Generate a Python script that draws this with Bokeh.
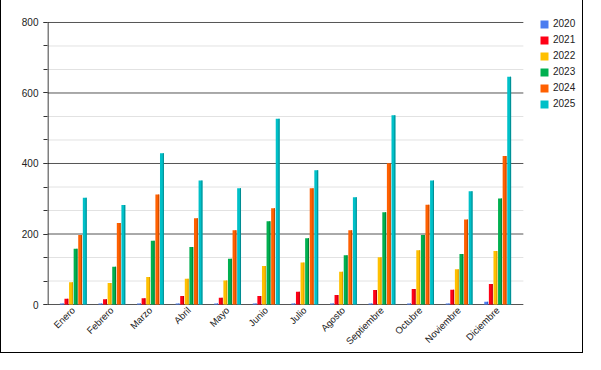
import math
import numpy as np
from bokeh.plotting import figure
from bokeh.models import (Range1d, FixedTicker, SingleIntervalTicker, Legend, LegendItem,
                          ColumnDataSource)
from bokeh.embed import file_html
from bokeh.resources import INLINE

months = ["Enero", "Febrero", "Marzo", "Abril", "Mayo", "Junio", "Julio", "Agosto",
          "Septiembre", "Octubre", "Noviembre", "Diciembre"]
years = ["2020", "2021", "2022", "2023", "2024", "2025"]
v2020 = [3, 3, 3, 3, 3, 3, 3, 3, 3, 3, 3, 8]
v2021 = [16, 15, 18, 24, 19, 24, 36, 27, 41, 44, 42, 58]
v2022 = [63, 61, 78, 73, 68, 109, 119, 93, 134, 154, 100, 152]
v2023 = [158, 107, 181, 163, 130, 236, 188, 140, 262, 197, 143, 301]
v2024 = [197, 231, 312, 245, 211, 273, 330, 211, 401, 283, 241, 421]
v2025 = [303, 282, 429, 352, 330, 527, 381, 304, 537, 352, 321, 646]
series = [v2020, v2021, v2022, v2023, v2024, v2025]
colors = ["#4a7cf0", "#ff0016", "#ffc000", "#00b050", "#ff6000", "#00c0c8"]
dark = ["#2f5cc4", "#b5000f", "#d99a00", "#00803a", "#c44800", "#008c92"]
y_major = [0, 200, 400, 600, 800]
minor_per_major = 3

FONT = "Liberation Sans"

# plot frame spans from x=46 to the right edge; the grid ends at the category area
x_start, x_grid_end, x_end = -0.668, 11.665, 13.25
p = figure(width=583, height=353, output_backend="svg", toolbar_location=None,
           x_range=Range1d(x_start, x_end), y_range=Range1d(-2.8, 834.0),
           min_border_left=46, min_border_top=10, min_border_right=0, min_border_bottom=48,
           styles={"border-left": "1px solid black", "border-right": "1px solid black",
                   "border-bottom": "1px solid black"})
p.outline_line_color = None
p.background_fill_color = "white"
p.border_fill_color = "white"

# horizontal grid lines (minor first, then major)
step_major = y_major[1] - y_major[0]
minor_vals = []
for a in y_major[:-1]:
    for k in range(1, minor_per_major):
        minor_vals.append(a + k * step_major / minor_per_major)
p.segment(x0=[x_start] * len(minor_vals), x1=[x_grid_end] * len(minor_vals),
          y0=minor_vals, y1=minor_vals, line_color="#e2e2e2", line_width=1)
p.segment(x0=[x_start] * len(y_major), x1=[x_grid_end] * len(y_major),
          y0=y_major, y1=y_major, line_color="#555555", line_width=1)
# vertical axis line from 0 to the top value
p.segment(x0=[x_start + 0.013], x1=[x_start + 0.013], y0=[y_major[0]], y1=[y_major[-1]],
          line_color="black", line_width=1)

xs = np.arange(len(months))
step = 0.119
bw = 0.10
items = []
for i, (yr, vals) in enumerate(zip(years, series)):
    off = (i - 2.5) * step
    src = ColumnDataSource(dict(x=xs + off, xr=xs + off + bw / 2 - 0.013, top=vals))
    r = p.vbar(x="x", top="top", width=bw, bottom=0, source=src,
               fill_color=colors[i], line_color=None)
    p.vbar(x="xr", top="top", width=0.026, bottom=0, source=src,
           fill_color=dark[i], line_color=None)
    items.append(LegendItem(label=yr, renderers=[r]))

# axes
p.xaxis.ticker = FixedTicker(ticks=list(range(len(months))))
p.xaxis.major_label_overrides = {i: m for i, m in enumerate(months)}
p.xaxis.major_label_orientation = math.pi / 4
p.xaxis.major_tick_line_color = None
p.xaxis.minor_tick_line_color = None
p.xaxis.major_tick_out = 0
p.xaxis.major_tick_in = 0
p.xaxis.minor_tick_out = 0
p.xaxis.axis_line_color = None
p.xaxis.major_label_text_font = FONT
p.xaxis.major_label_text_font_size = "9.5px"
p.xaxis.major_label_text_color = "#222222"
p.xaxis.major_label_standoff = 3
p.xgrid.grid_line_color = None

p.yaxis.ticker = SingleIntervalTicker(interval=step_major, num_minor_ticks=minor_per_major)
p.yaxis.axis_line_color = None
p.yaxis.major_tick_line_color = "#333333"
p.yaxis.minor_tick_line_color = "#333333"
p.yaxis.major_tick_out = 4
p.yaxis.major_tick_in = 0
p.yaxis.minor_tick_out = 4
p.yaxis.minor_tick_in = 0
p.yaxis.major_label_text_font = FONT
p.yaxis.major_label_text_font_size = "10px"
p.yaxis.major_label_text_color = "#222222"
p.yaxis.major_label_standoff = 5
p.ygrid.grid_line_color = None

legend = Legend(items=items, location=(492, 196), orientation="vertical",
                glyph_width=10, glyph_height=10, label_height=11, spacing=5,
                padding=0, margin=0, label_standoff=4,
                label_text_font=FONT, label_text_font_size="10px",
                label_text_color="#222222",
                border_line_color=None, background_fill_alpha=0)
p.add_layout(legend, "center")

open("out.html", "w").write(file_html(p, INLINE))
